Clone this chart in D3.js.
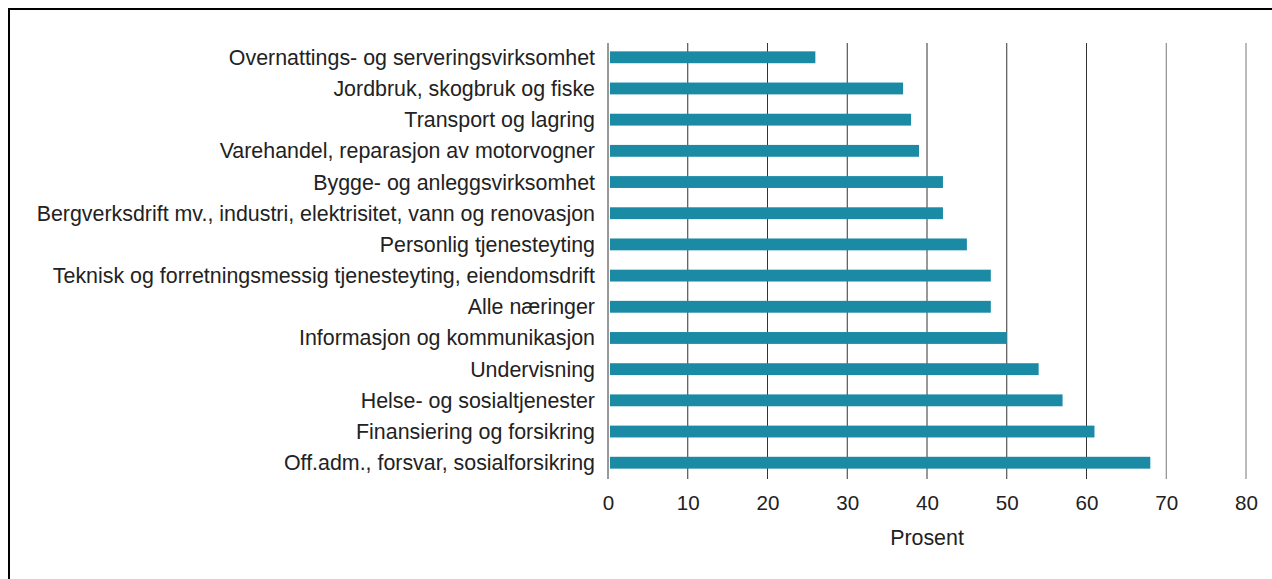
<!DOCTYPE html>
<html>
<head>
  <meta charset="utf-8">
  <script src="https://d3js.org/d3.v7.min.js"></script>
  <style>
    body { margin: 0; background: #fff; }
    .label { font-family: "Liberation Sans", Arial, sans-serif; font-size: 21.4px; fill: #222; }
    .tick text { font-family: "Liberation Sans", Arial, sans-serif; font-size: 20.6px; fill: #222; }
  </style>
</head>
<body>
  <script>

    // Categories from top to bottom
    var categories = [
      "Overnattings- og serveringsvirksomhet",
      "Jordbruk, skogbruk og fiske",
      "Transport og lagring",
      "Varehandel, reparasjon av motorvogner",
      "Bygge- og anleggsvirksomhet",
      "Bergverksdrift mv., industri, elektrisitet, vann og renovasjon",
      "Personlig tjenesteyting",
      "Teknisk og forretningsmessig tjenesteyting, eiendomsdrift",
      "Alle næringer",
      "Informasjon og kommunikasjon",
      "Undervisning",
      "Helse- og sosialtjenester",
      "Finansiering og forsikring",
      "Off.adm., forsvar, sosialforsikring"
    ];

    // Percent values, same order
    var values = [26, 37, 38, 39, 42, 42, 45, 48, 48, 50, 54, 57, 61, 68];

    var xTicks = [0, 10, 20, 30, 40, 50, 60, 70, 80];

    var width = 1272, height = 579;
    var margin = {top: 42, left: 608, right: 26, bottom: 100};

    var svg = d3.select("body").append("svg")
        .attr("width", width)
        .attr("height", height);

    // frame round the chart
    svg.append("rect")
        .attr("x", 9).attr("y", 9)
        .attr("width", width).attr("height", height)
        .attr("fill", "none")
        .attr("stroke", "#000")
        .attr("stroke-width", 2);

    var x = d3.scaleLinear()
        .domain([0, 80])
        .range([margin.left, 1246]);

    var y = d3.scaleBand()
        .domain(categories)
        .range([42, 478])
        .paddingInner(0.62)
        .paddingOuter(0.3);

    // gridlines
    svg.append("g")
      .selectAll("line")
      .data(xTicks)
      .enter().append("line")
        .attr("x1", function(d) { return x(d); })
        .attr("x2", function(d) { return x(d); })
        .attr("y1", 43)
        .attr("y2", 479)
        .attr("stroke", function(d) { return d >= 70 ? "#777" : "#333"; })
        .attr("stroke-width", 1);

    // bars
    svg.append("g")
      .selectAll("rect")
      .data(values)
      .enter().append("rect")
        .attr("x", x(0) + 2)
        .attr("y", function(d, i) { return y(categories[i]); })
        .attr("width", function(d) { return x(d) - x(0) - 2; })
        .attr("height", y.bandwidth())
        .attr("fill", "#1a8aa5");

    // category labels
    svg.append("g")
      .selectAll("text")
      .data(categories)
      .enter().append("text")
        .attr("class", "label")
        .attr("x", 595)
        .attr("y", function(d) { return y(d) + y.bandwidth() / 2; })
        .attr("dy", ".35em")
        .attr("text-anchor", "end")
        .text(function(d) { return d; });

    // x axis tick labels
    var xAxis = svg.append("g")
        .attr("transform", "translate(0,479)")
        .call(d3.axisBottom(x).tickValues(xTicks).tickSize(0).tickPadding(16));
    xAxis.select(".domain").remove();

    svg.append("text")
        .attr("class", "label")
        .attr("x", x(40))
        .attr("y", 545)
        .attr("text-anchor", "middle")
        .text("Prosent");

  </script>
</body>
</html>
